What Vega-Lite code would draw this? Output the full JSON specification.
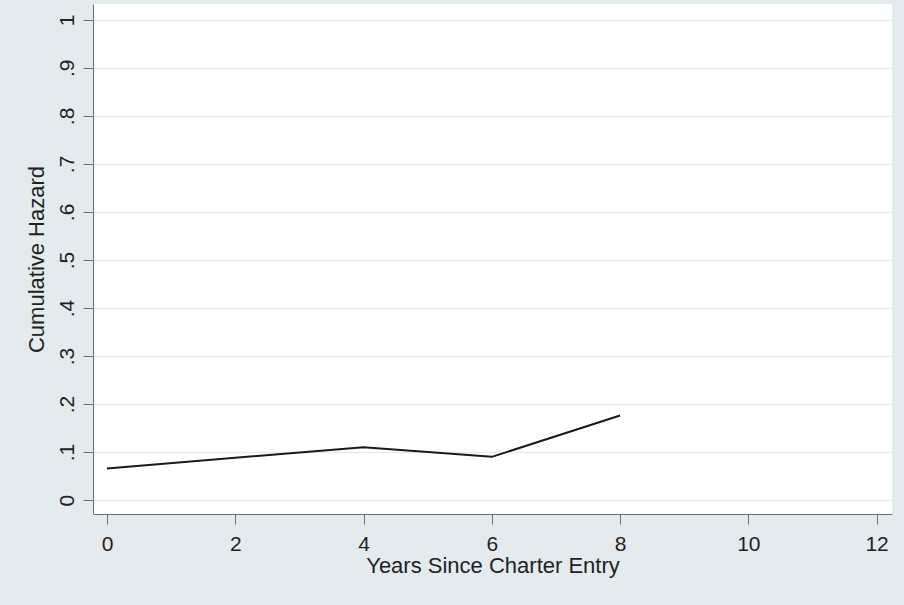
{
  "$schema": "https://vega.github.io/schema/vega-lite/v6.json",
  "width": 799,
  "height": 510,
  "autosize": "none",
  "padding": {"left": 93, "top": 4, "right": 12, "bottom": 91},
  "background": "#E4EBEE",
  "config": {
    "view": {"stroke": null, "fill": "white"},
    "font": "Liberation Sans"
  },
  "data": {
    "values": [
      {"years": 0, "hazard": 0.066},
      {"years": 4, "hazard": 0.110},
      {"years": 6, "hazard": 0.090},
      {"years": 8, "hazard": 0.176}
    ]
  },
  "mark": {"type": "line", "color": "#1a1a1a", "strokeWidth": 2},
  "encoding": {
    "x": {
      "field": "years",
      "type": "quantitative",
      "scale": {"domain": [-0.218, 12.24], "nice": false, "zero": false},
      "axis": {
        "title": "Years Since Charter Entry",
        "values": [0, 2, 4, 6, 8, 10, 12],
        "grid": false,
        "domainColor": "#6e6e6e",
        "tickColor": "#6e6e6e",
        "tickSize": 10,
        "labelPadding": 9,
        "labelFontSize": 21,
        "labelColor": "#222222",
        "titleFontSize": 22,
        "titleFontWeight": "normal",
        "titleColor": "#222222",
        "titlePadding": 1,
        "labelFlush": false
      }
    },
    "y": {
      "field": "hazard",
      "type": "quantitative",
      "scale": {"domain": [-0.029, 1.033], "nice": false, "zero": false},
      "axis": {
        "title": "Cumulative Hazard",
        "values": [0, 0.1, 0.2, 0.3, 0.4, 0.5, 0.6, 0.7, 0.8, 0.9, 1],
        "labelExpr": "datum.value == 0 ? '0' : datum.value == 1 ? '1' : replace(format(datum.value, '.1f'), '0.', '.')",
        "grid": true,
        "gridColor": "#E4ECEF",
        "gridWidth": 1.5,
        "domainColor": "#6e6e6e",
        "tickColor": "#6e6e6e",
        "tickSize": 10,
        "labelAngle": -90,
        "labelAlign": "center",
        "labelBaseline": "alphabetic",
        "labelPadding": 10,
        "labelFontSize": 21,
        "labelColor": "#222222",
        "titleFontSize": 22,
        "titleFontWeight": "normal",
        "titleColor": "#222222",
        "titlePadding": 8,
        "labelFlush": false
      }
    }
  }
}
